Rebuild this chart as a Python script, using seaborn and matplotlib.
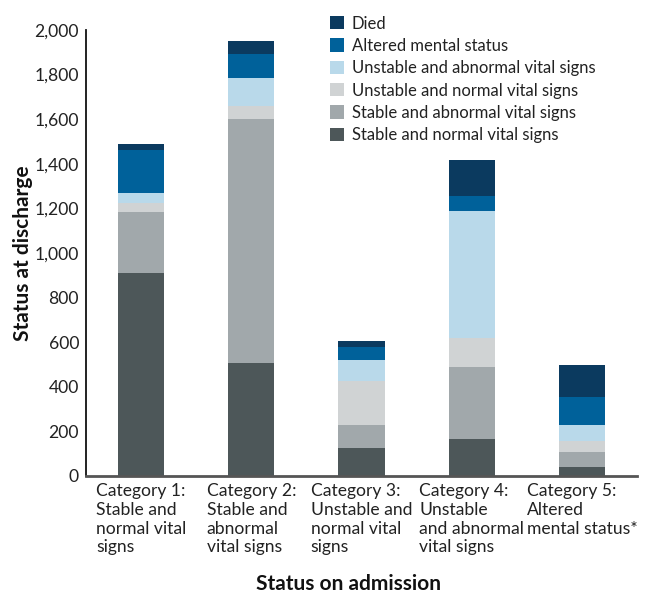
import matplotlib
matplotlib.use("Agg")
import matplotlib.pyplot as plt
import seaborn as sns
import numpy as np
from matplotlib.patches import Patch
from matplotlib.ticker import FuncFormatter

categories = [
    "Category 1:\nStable and\nnormal vital\nsigns",
    "Category 2:\nStable and\nabnormal\nvital signs",
    "Category 3:\nUnstable and\nnormal vital\nsigns",
    "Category 4:\nUnstable\nand abnormal\nvital signs",
    "Category 5:\nAltered\nmental status*",
]
series_names = [
    "Stable and normal vital signs",
    "Stable and abnormal vital signs",
    "Unstable and normal vital signs",
    "Unstable and abnormal vital signs",
    "Altered mental status",
    "Died",
]
stable_normal = [910, 507, 126, 166, 40]
stable_abnormal = [274, 1095, 103, 323, 68]
unstable_normal = [39, 57, 196, 128, 48]
unstable_abnormal = [46, 126, 95, 571, 73]
altered_mental = [193, 107, 58, 68, 125]
died = [27, 59, 27, 161, 144]

colors = ["#4d5759", "#a1a8ab", "#d0d3d4", "#b9d9ea", "#00619a", "#0b3a5f"]

sns.set_theme(style="white")
plt.rcParams["font.family"] = ["Lato", "DejaVu Sans"]

fig = plt.figure(figsize=(6.64, 5.94), dpi=100)
ax = fig.add_axes([0.1295, 0.1987, 0.8298, 0.7508])

all_series = [stable_normal, stable_abnormal, unstable_normal,
              unstable_abnormal, altered_mental, died]
bottom = np.zeros(len(categories))
for name, vals, col in zip(series_names, all_series, colors):
    sns.barplot(x=categories, y=vals, bottom=bottom, color=col, width=0.42,
                ax=ax, linewidth=0, saturation=1, order=categories)
    bottom = bottom + np.array(vals)

ax.set_ylim(0, 2000)
ax.set_xlim(-0.5, 4.5)
ax.set_yticks(np.arange(0, 2001, 200))
ax.yaxis.set_major_formatter(FuncFormatter(lambda v, p: f"{int(v):,}"))
ax.tick_params(axis="y", labelsize=12.6, colors="#222222", length=0, pad=5)
ax.tick_params(axis="x", labelsize=12.6, colors="#222222", length=0, pad=5)
for lab in ax.get_xticklabels():
    lab.set_multialignment("left")
    lab.set_linespacing(1.22)

for s in ["top", "right"]:
    ax.spines[s].set_visible(False)
ax.spines["left"].set_color("#111111")
ax.spines["left"].set_linewidth(1.3)
ax.spines["bottom"].set_color("#555555")
ax.spines["bottom"].set_linewidth(2)

ax.set_ylabel("Status at discharge", fontsize=15, fontweight="bold", color="#111111")
ax.yaxis.set_label_coords(-0.097, 0.5)
ax.set_xlabel("Status on admission", fontsize=15, fontweight="bold", color="#111111")
ax.xaxis.set_label_coords(0.477, -0.2556)
ax.xaxis.label.set_va("baseline")

handles = [Patch(facecolor=c, edgecolor="none") for c in colors[::-1]]
fig.legend(handles, series_names[::-1], loc="upper left", bbox_to_anchor=(0.487, 0.985),
           frameon=False, fontsize=12, handlelength=0.85, handleheight=0.85,
           handletextpad=0.45, labelspacing=0.38, borderaxespad=0, labelcolor="#222222")

fig.savefig("out.png", dpi=100)
